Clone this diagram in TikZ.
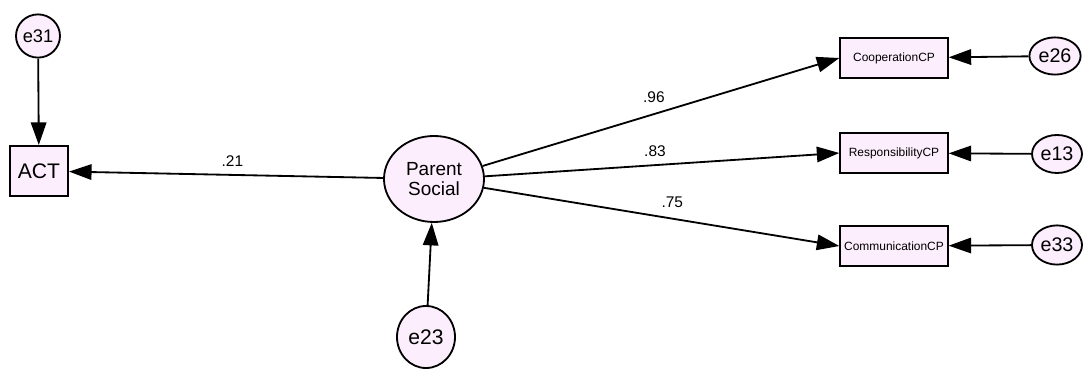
\documentclass[tikz,border=0pt]{standalone}
\usepackage{fontspec}
\setmainfont{Liberation Sans}
\usepackage{tikz}
\usetikzlibrary{arrows.meta}
\usetikzlibrary{shapes.geometric}
\usetikzlibrary{positioning}
\definecolor{semfill}{HTML}{FCEEFC}
\newcommand{\fs}[1]{\fontsize{#1}{#1}\selectfont}

\begin{document}
\begin{tikzpicture}[x=0.025cm, y=-0.025cm,
    obsbox/.style={draw, line width=1.5pt, fill=semfill, inner sep=0pt},
    latvar/.style={draw, ellipse, line width=1.3pt, fill=semfill, inner sep=0pt, align=center},
    errvar/.style={draw, ellipse, line width=1.3pt, fill=semfill, inner sep=0pt},
    semarrow/.style={-{Triangle[length=16pt, width=11pt]}, line width=1.3pt},
    coef/.style={font=\fs{11}}]
    \useasboundingbox (0,0) rectangle (1091,372);

    % observed and latent variables
    \node(act) [obsbox, minimum width=1.45cm, minimum height=1.25cm, font=\fs{15}] at (39, 171) {ACT};
    \node(ps) [latvar, minimum width=2.5cm, minimum height=2.15cm, font=\fs{13.5}] at (434, 179) {Parent\\[1pt]Social};
    \node(coop) [obsbox, minimum width=2.68cm, minimum height=1.02cm, font=\fs{8.5}] at (894, 58) {CooperationCP};
    \node(resp) [obsbox, minimum width=2.68cm, minimum height=1.0cm, font=\fs{8.5}] at (894, 153) {ResponsibilityCP};
    \node(comm) [obsbox, minimum width=2.68cm, minimum height=0.98cm, font=\fs{8.5}] at (894, 246) {CommunicationCP};

    % error terms
    \node(e31) [errvar, minimum width=1.1cm, minimum height=1.08cm, font=\fs{13}] at (38, 36) {e31};
    \node(e23) [errvar, minimum width=1.45cm, minimum height=1.55cm, font=\fs{15}] at (426, 337) {e23};
    \node(e26) [errvar, minimum width=1.28cm, minimum height=0.93cm, font=\fs{14}] at (1055, 56) {e26};
    \node(e13) [errvar, minimum width=1.25cm, minimum height=0.95cm, font=\fs{14}] at (1057, 154) {e13};
    \node(e33) [errvar, minimum width=1.25cm, minimum height=0.98cm, font=\fs{14}] at (1057, 245) {e33};

    % paths
    \draw[semarrow] (e31) -- (act);
    \draw[semarrow] (ps) -- (act) node [coef, pos=0.48, above = 2pt] {.21};
    \draw[semarrow] (ps.15) -- (coop.west) node [coef, pos=0.48, above = 4pt] {.96};
    \draw[semarrow] (ps.3) -- (resp.west) node [coef, pos=0.48, above = 2pt] {.83};
    \draw[semarrow] (ps.-10) -- (comm.west) node [coef, pos=0.53, above = 4pt] {.75};
    \draw[semarrow] (e23) -- (ps);
    \draw[semarrow] (e26) -- (coop);
    \draw[semarrow] (e13) -- (resp);
    \draw[semarrow] (e33) -- (comm);
\end{tikzpicture}
\end{document}
